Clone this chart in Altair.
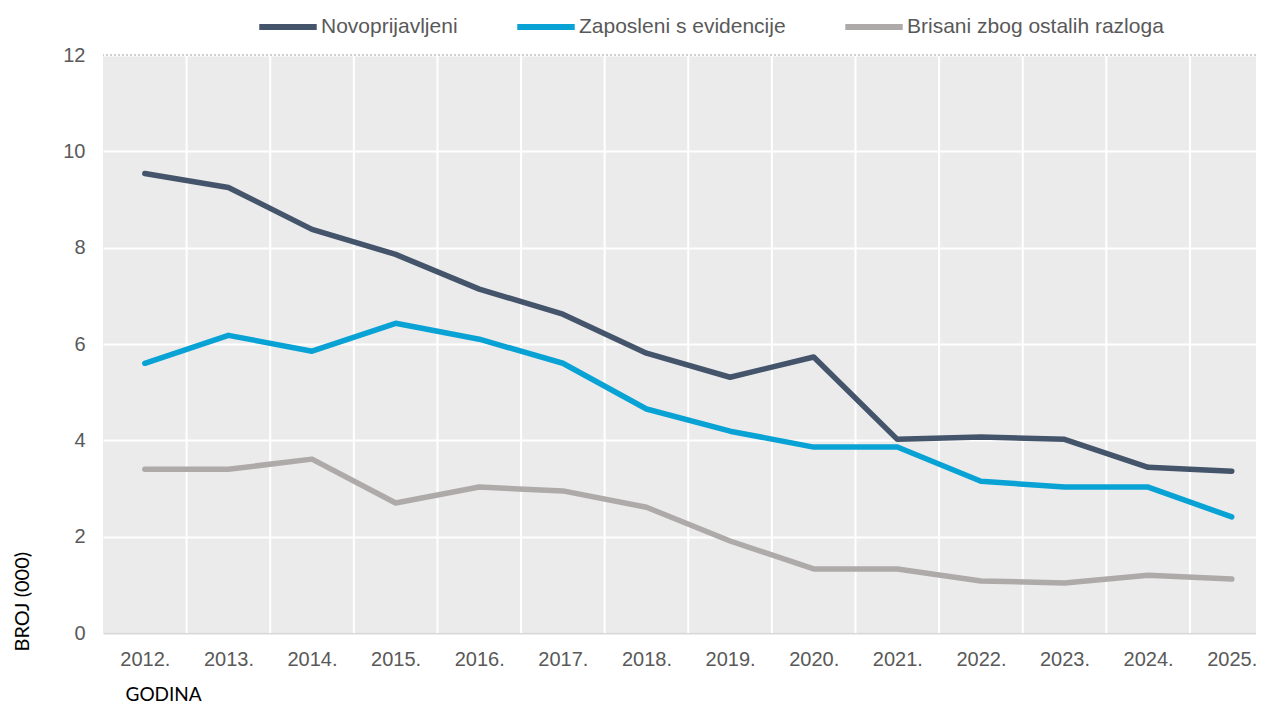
import altair as alt
import pandas as pd

years = list(range(2012, 2026))
series_names = ["Novoprijavljeni", "Zaposleni s evidencije", "Brisani zbog ostalih razloga"]
novoprijavljeni = [9.54, 9.25, 8.38, 7.86, 7.14, 6.62, 5.81, 5.31, 5.73, 4.02, 4.07, 4.02, 3.44, 3.36]
zaposleni = [5.60, 6.18, 5.85, 6.43, 6.10, 5.60, 4.65, 4.19, 3.86, 3.86, 3.15, 3.03, 3.03, 2.41]
brisani = [3.40, 3.40, 3.61, 2.70, 3.03, 2.95, 2.61, 1.91, 1.33, 1.33, 1.08, 1.04, 1.20, 1.12]
colors = ["#44546a", "#08a2d5", "#aeaaaa"]
y_ticks = [0, 2, 4, 6, 8, 10, 12]
boundaries = [y + 0.5 for y in years[:-1]]

rows = []
for name, vals in zip(series_names, [novoprijavljeni, zaposleni, brisani]):
    for yr, v in zip(years, vals):
        rows.append({"Godina": yr, "Vrijednost": v, "Serija": name})
df = pd.DataFrame(rows)
grid_df = pd.DataFrame({"Godina": boundaries})

xscale = alt.Scale(domain=[2011.5, 2025.29], nice=False, zero=False)
yscale = alt.Scale(domain=[0, 12], nice=False)

x_axis = alt.Axis(
    values=years,
    labelExpr="datum.value + '.'",
    grid=False,
    ticks=False,
    domainColor="#d9d9d9",
    domainWidth=2,
    labelFont="Liberation Sans",
    labelFontSize=20,
    labelColor="#595959",
    labelPadding=16,
    title="GODINA",
    titleFont="Lato",
    titleFontSize=19,
    titleFontWeight="normal",
    titleColor="#000000",
    titleAlign="left",
    titleBaseline="middle",
    titleX=22,
    titleY=61,
)

y_axis = alt.Axis(
    values=y_ticks,
    grid=True,
    gridColor="white",
    gridWidth=2,
    ticks=False,
    domain=False,
    labelFont="Liberation Sans",
    labelFontSize=20,
    labelColor="#595959",
    labelPadding=18,
    title="BROJ (000)",
    titleFont="Lato",
    titleFontSize=20,
    titleFontWeight="normal",
    titleColor="#000000",
    titleAngle=-90,
    titleAlign="left",
    titleBaseline="middle",
    titleX=-81,
    titleY=596,
)

lines = alt.Chart(df).mark_line(strokeWidth=5.5, strokeCap="round", strokeJoin="round").encode(
    x=alt.X("Godina:Q", scale=xscale, axis=x_axis),
    y=alt.Y("Vrijednost:Q", scale=yscale, axis=y_axis),
    color=alt.Color(
        "Serija:N",
        scale=alt.Scale(domain=series_names, range=colors),
        sort=series_names,
        legend=alt.Legend(
            title=None,
            orient="none",
            direction="horizontal",
            legendX=153,
            legendY=-60,
            symbolType="stroke",
            symbolSize=3300,
            symbolStrokeWidth=6,
            labelFont="Liberation Sans",
            labelFontSize=21,
            labelColor="#595959",
            labelLimit=0,
            labelOffset=1,
            columnPadding=47,
        ),
    ),
)

vgrid = alt.Chart(grid_df).mark_rule(color="white", strokeWidth=2).encode(
    x=alt.X("Godina:Q", scale=xscale, axis=x_axis)
)

top_line = alt.Chart(grid_df).mark_rule(color="#d0d0d0", strokeWidth=1.5, strokeDash=[2, 2]).encode(
    y=alt.datum(12, scale=yscale)
)

chart = (
    alt.layer(vgrid, top_line, lines)
    .properties(
        width=1153,
        height=578,
        padding={"left": 95, "top": 47, "right": 0, "bottom": 70},
        autosize=alt.AutoSizeParams(type="none"),
    )
    .configure_view(fill="#ebebeb", stroke=None)
)

chart.save("out.html", embed_options={"renderer": "svg", "actions": False})
